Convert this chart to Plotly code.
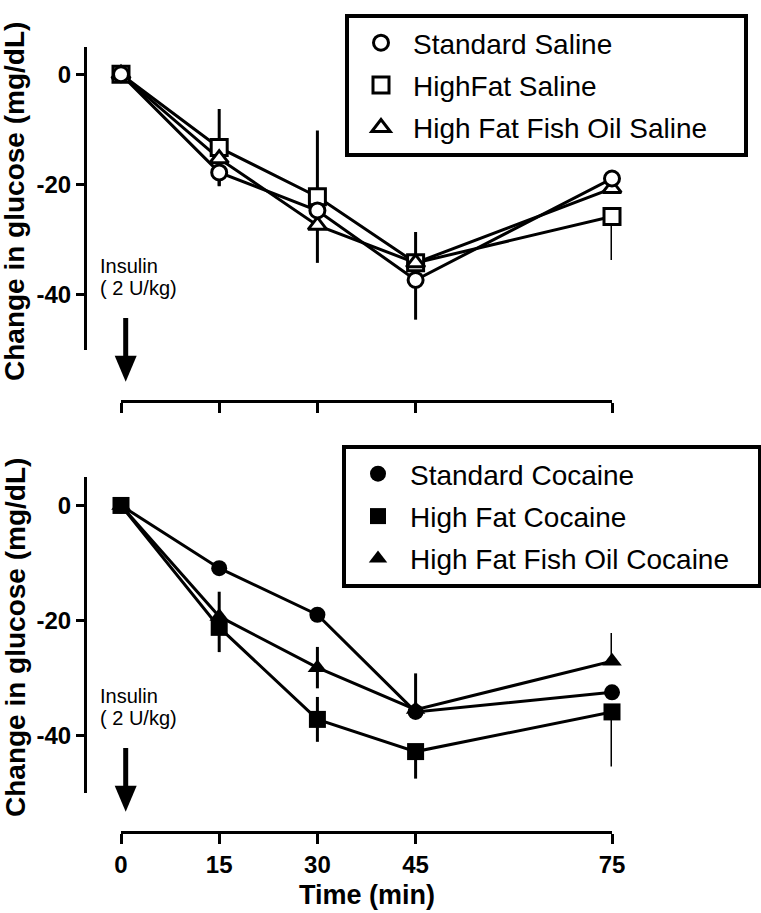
import plotly.graph_objects as go

W, H = 761, 913

# ---------------- data ----------------
times = [0, 15, 30, 45, 75]
x_ticks = [0, 15, 30, 45, 75]
x_ticktext = ["0", "15", "30", "45", "75"]
y_ticks = [0, -20, -40]
y_ticktext = ["0", "-20", "-40"]

saline_names = ["Standard Saline", "HighFat Saline", "High Fat Fish Oil Saline"]
standard_saline = [0, -17.8, -24.7, -37.3, -18.9]
highfat_saline = [0, -13.3, -22.2, -34.2, -25.8]
fishoil_saline = [0, -15.3, -27.4, -34.2, -20.7]
standard_saline_up = [0, 0, 0, 0, 0]
standard_saline_down = [0, 2.4, 0, 7.2, 0]
highfat_saline_up = [0, 7.0, 12.0, 5.6, 0]
highfat_saline_down = [0, 7.0, 12.0, 0, 7.9]
fishoil_saline_up = [0, 0, 0, 0, 0]
fishoil_saline_down = [0, 0, 0, 0, 0]

cocaine_names = ["Standard Cocaine", "High Fat Cocaine", "High Fat Fish Oil Cocaine"]
standard_cocaine = [0, -10.9, -19.0, -35.9, -32.5]
highfat_cocaine = [0, -21.2, -37.2, -42.8, -35.9]
fishoil_cocaine = [0, -19.3, -28.2, -35.5, -27.1]
standard_cocaine_up = [0, 0, 0, 0, 0]
standard_cocaine_down = [0, 0, 0, 0, 0]
highfat_cocaine_up = [0, 0, 3.9, 0, 0]
highfat_cocaine_down = [0, 4.3, 3.9, 4.7, 9.5]
fishoil_cocaine_up = [0, 4.3, 3.6, 6.3, 4.9]
fishoil_cocaine_down = [0, 0, 3.6, 0, 0]

def px(xp):
    return xp / W

def py(yp):
    return 1 - yp / H

FONT = "Liberation Sans, Arial, sans-serif"
BLACK = "black"
NB = "\u00a0"

fig = go.Figure()

# (name, values, err up, err down, symbol, fill, size, legend rank, legend right padding)
saline = [
    (saline_names[1], highfat_saline, highfat_saline_up, highfat_saline_down, "square", "white", 16, 2, 0),
    (saline_names[2], fishoil_saline, fishoil_saline_up, fishoil_saline_down, "triangle-up", "white", 16, 3, 4),
    (saline_names[0], standard_saline, standard_saline_up, standard_saline_down, "circle", "white", 15, 1, 0),
]
cocaine = [
    (cocaine_names[1], highfat_cocaine, highfat_cocaine_up, highfat_cocaine_down, "square", BLACK, 17, 2, 0),
    (cocaine_names[2], fishoil_cocaine, fishoil_cocaine_up, fishoil_cocaine_down, "triangle-up", BLACK, 17, 3, 3),
    (cocaine_names[0], standard_cocaine, standard_cocaine_up, standard_cocaine_down, "circle", BLACK, 16, 1, 0),
]

for group, xa, ya, leg in [(saline, "x", "y", "legend"), (cocaine, "x2", "y2", "legend2")]:
    for name, yv, up, dn, sym, fill, size, rank, pad in group:
        fig.add_trace(go.Scatter(
            x=times, y=yv, mode="lines", xaxis=xa, yaxis=ya, legendgroup=name,
            line=dict(color=BLACK, width=3), showlegend=False, hoverinfo="skip",
            cliponaxis=False,
        ))
    for name, yv, up, dn, sym, fill, size, rank, pad in group:
        fig.add_trace(go.Scatter(
            x=times, y=yv, mode="markers", name=name + NB * pad, xaxis=xa, yaxis=ya,
            legend=leg, legendrank=rank, legendgroup=name,
            marker=dict(symbol=sym, size=size, color=fill,
                        line=dict(color=BLACK, width=3 if fill == "white" else 0)),
            error_y=dict(type="data", symmetric=False, array=up, arrayminus=dn,
                         color=BLACK, thickness=3, width=0),
            cliponaxis=False,
        ))

axis_font = dict(family=FONT, size=24, color=BLACK, weight="bold")

x_dom = [px(121), px(612)]
common_x = dict(range=[0, 75], domain=x_dom, anchor="free", showgrid=False, zeroline=False,
                showline=True, linecolor=BLACK, linewidth=3, ticks="outside", ticklen=10,
                tickwidth=3, tickcolor=BLACK, tickvals=x_ticks, ticktext=x_ticktext,
                tickfont=axis_font, automargin=False)
common_y = dict(range=[-50, 5], anchor="free", position=px(85), showgrid=False, zeroline=False,
                showline=True, linecolor=BLACK, linewidth=3, ticks="outside", ticklen=8,
                tickwidth=3, tickcolor=BLACK, tickvals=y_ticks, ticktext=y_ticktext,
                tickfont=axis_font, automargin=False)

legend_common = dict(xanchor="left", yanchor="top", bordercolor=BLACK, borderwidth=4,
                     bgcolor="white", font=dict(family=FONT, size=28, color=BLACK),
                     itemwidth=54, traceorder="grouped", tracegroupgap=3)

fig.update_layout(
    width=W, height=H,
    margin=dict(l=0, r=0, t=0, b=0, autoexpand=False),
    paper_bgcolor="white", plot_bgcolor="white",
    xaxis=dict(common_x, position=py(401), showticklabels=False),
    yaxis=dict(common_y, domain=[py(350), py(46.7)]),
    xaxis2=dict(common_x, position=py(832)),
    yaxis2=dict(common_y, domain=[py(793), py(476.7)]),
    legend=dict(legend_common, x=px(345), y=py(14)),
    legend2=dict(legend_common, x=px(342), y=py(445)),
    showlegend=True,
)

ann = []
for yc in (202, 638):
    ann.append(dict(text="Change in glucose (mg/dL)", xref="paper", yref="paper",
                    x=px(15), y=py(yc), textangle=-90, showarrow=False,
                    xanchor="center", yanchor="middle",
                    font=dict(family=FONT, size=28, color=BLACK, weight="bold")))
ann.append(dict(text="Time (min)", xref="paper", yref="paper", x=px(366.5), y=py(895),
                showarrow=False, xanchor="center", yanchor="middle",
                font=dict(family=FONT, size=27, color=BLACK, weight="bold")))
for l1, l2 in ((266, 288), (696, 718)):
    ann.append(dict(text="Insulin", xref="paper", yref="paper", x=px(98), y=py(l1),
                    showarrow=False, xanchor="left", yanchor="middle",
                    font=dict(family=FONT, size=20, color=BLACK)))
    ann.append(dict(text="( 2 U/kg)", xref="paper", yref="paper", x=px(98), y=py(l2),
                    showarrow=False, xanchor="left", yanchor="middle",
                    font=dict(family=FONT, size=20, color=BLACK)))
fig.update_layout(annotations=ann)

shapes = []
for top, tip in ((318, 381.7), (748, 811.7)):
    xc = 125.7
    base = tip - 26
    shapes.append(dict(type="line", xref="paper", yref="paper",
                       x0=px(xc), x1=px(xc), y0=py(top), y1=py(base + 2),
                       line=dict(color=BLACK, width=5)))
    shapes.append(dict(type="path", xref="paper", yref="paper",
                       path=f"M {px(xc-11)},{py(base)} L {px(xc+11)},{py(base)} L {px(xc)},{py(tip)} Z",
                       fillcolor=BLACK, line=dict(color=BLACK, width=0)))
fig.update_layout(shapes=shapes)

fig.write_html("out.html", config={"displayModeBar": False},
               post_script="document.body.style.margin='0';document.body.style.overflow='hidden';")
